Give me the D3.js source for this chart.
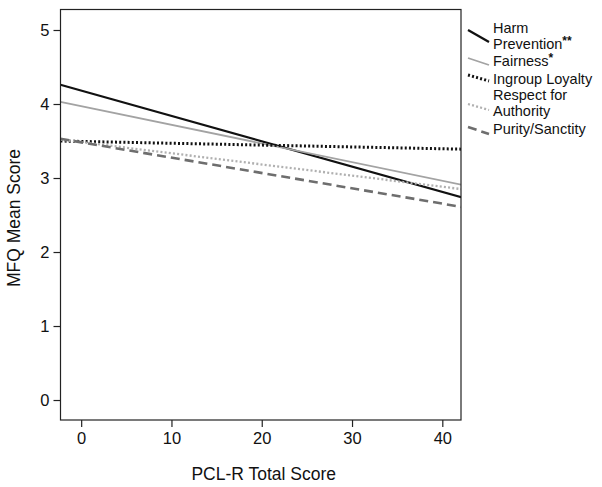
<!DOCTYPE html>
<html><head><meta charset="utf-8">
<script src="https://cdn.jsdelivr.net/npm/d3@7"></script>
<style>
body{margin:0;background:#fff;}
svg{display:block;font-family:"Liberation Sans",Arial,sans-serif;}
</style></head>
<body><svg id="c" width="602" height="487"></svg>
<script>
// x positions where the fitted lines start and end (plot edges)
const xEnds = [-2.3, 42.1];
const seriesNames = ["Harm Prevention", "Fairness", "Ingroup Loyalty", "Respect for Authority", "Purity/Sanctity"];
const harm = [4.26, 2.74];
const fairness = [4.03, 2.91];
const ingroup = [3.50, 3.39];
const respect = [3.52, 2.85];
const purity = [3.53, 2.61];
const xTicks = [0, 10, 20, 30, 40];
const yTicks = [0, 1, 2, 3, 4, 5];
const legendLabels = [["Harm", "Prevention", "**"], ["Fairness", "*"], ["Ingroup Loyalty"], ["Respect for", "Authority"], ["Purity/Sanctity"]];

const styles = [
  {color:"#111", width:2.2, dash:null},
  {color:"#a3a3a3", width:1.8, dash:null},
  {color:"#111", width:3, dash:"2,2.2"},
  {color:"#b0b0b0", width:2.3, dash:"2,2.2"},
  {color:"#6e6e6e", width:2.6, dash:"9,5"}
];
const allSeries = [harm, fairness, ingroup, respect, purity];

const svg = d3.select("#c");
const L = 60.5, R = 461, T = 9.5, B = 420;
const x = d3.scaleLinear().domain([-2.29, 42.07]).range([L, R]);
const y = d3.scaleLinear().domain([-0.27, 5.277]).range([B, T]);

svg.append("defs").append("clipPath").attr("id","clip")
  .append("rect").attr("x",L).attr("y",T).attr("width",R-L).attr("height",B-T);

const line = d3.line().x(d=>x(d[0])).y(d=>y(d[1]));
const g = svg.append("g").attr("clip-path","url(#clip)");
allSeries.forEach((s,i)=>{
  const pts = xEnds.map((xv,j)=>[xv, s[j]]);
  const st = styles[i];
  g.append("path").attr("d", line(pts)).attr("fill","none")
    .attr("stroke", st.color).attr("stroke-width", st.width)
    .attr("stroke-dasharray", st.dash);
});

// frame
svg.append("rect").attr("x",L).attr("y",T).attr("width",R-L).attr("height",B-T)
  .attr("fill","none").attr("stroke","#222").attr("stroke-width",1.2);

// axes
const xAxis = svg.append("g").attr("transform",`translate(0,${B})`)
  .call(d3.axisBottom(x).tickValues(xTicks).tickSize(7).tickPadding(5).tickFormat(d3.format("d")));
const yAxis = svg.append("g").attr("transform",`translate(${L},0)`)
  .call(d3.axisLeft(y).tickValues(yTicks).tickSize(7).tickPadding(4).tickFormat(d3.format("d")));
[xAxis,yAxis].forEach(a=>{
  a.select(".domain").remove();
  a.selectAll("line").attr("stroke","#222").attr("stroke-width",1.2);
  a.selectAll("text").attr("fill","#111").style("font-size","16.5px").style("font-family","Liberation Sans, Arial, sans-serif");
});

svg.append("text").attr("x",(L+R)/2+3).attr("y",480).attr("text-anchor","middle")
  .style("font-size","17.5px").attr("fill","#111").text("PCL-R Total Score");
svg.append("text").attr("transform","translate(20,218) rotate(-90)").attr("text-anchor","middle")
  .style("font-size","17.5px").attr("fill","#111").text("MFQ Mean Score");

// legend
const fs = "14.5px";
const legY = [33, 66, 84, 100, 134];
const iconY = [[30,42],[58,65],[75,81],[104,110],[127,134]];
const lg = svg.append("g");
function lt(xp, yp, s){ return lg.append("text").attr("x",xp).attr("y",yp).style("font-size",fs).attr("fill","#111").text(s); }
legendLabels.forEach((lab,i)=>{
  const st = styles[i];
  lg.append("line").attr("x1",468).attr("x2",489).attr("y1",iconY[i][0]).attr("y2",iconY[i][1])
    .attr("stroke",st.color).attr("stroke-width",st.width).attr("stroke-dasharray",st.dash);
  if(i===0){
    lt(493, legY[i], lab[0]);
    lt(493, legY[i]+16, lab[1]).append("tspan").attr("dy",-4).style("font-size","12px").style("font-weight","bold").text(lab[2]);
  } else if(i===1){
    lt(493, legY[i], lab[0]).append("tspan").attr("dy",-4).style("font-size","12px").style("font-weight","bold").text(lab[1]);
  } else if(i===3){
    lt(493, legY[i], lab[0]);
    lt(493, legY[i]+16, lab[1]);
  } else {
    lt(493, legY[i], lab[0]);
  }
});
</script></body></html>
